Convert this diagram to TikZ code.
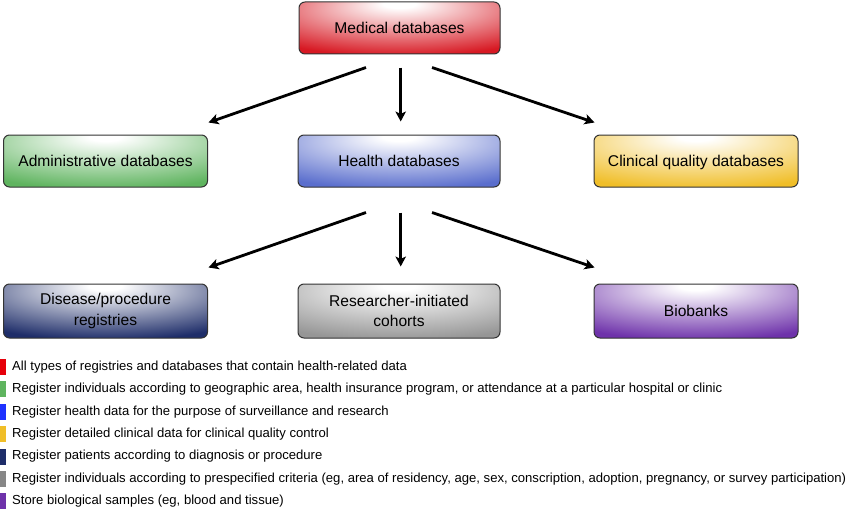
\documentclass[tikz,border=0pt]{standalone}
\usepackage{fontspec}
\setmainfont{Liberation Sans}
\usetikzlibrary{arrows.meta,positioning}
\definecolor{medred}{RGB}{215,25,35}
\definecolor{admgreen}{RGB}{95,180,95}
\definecolor{hlthblue}{RGB}{90,110,205}
\definecolor{clinyellow}{RGB}{240,190,40}
\definecolor{disnavy}{RGB}{30,45,105}
\definecolor{resgray}{RGB}{150,150,150}
\definecolor{biopurple}{RGB}{110,50,170}
\definecolor{legred}{RGB}{230,0,10}
\definecolor{legblue}{RGB}{30,50,255}
\definecolor{leggray}{RGB}{135,135,135}
\makeatletter
\pgfdeclareradialshading[tikz@radial@outer]{glow}{\pgfpoint{0bp}{24bp}}{color(0bp)=(white); color(4bp)=(white); color(42bp)=(tikz@radial@outer); color(110bp)=(tikz@radial@outer)}
\makeatother
\tikzset{
	dbbox/.style={draw=black!80, line width=1pt, rounded corners=6pt,
		minimum width=#1, minimum height=52pt, inner sep=2pt, align=center,
		font=\fontsize{15.6}{20.5}\selectfont},
	dbbox/.default=204pt,
	oneline/.style={text height=12.5pt, text depth=1.5pt},
	arr/.style={line width=2.8pt, -{Stealth[length=10pt,width=10.5pt,inset=2.5pt]}},
	legtext/.style={anchor=west, inner sep=0pt, font=\fontsize{13.1}{14}\selectfont}
}
\begin{document}
\begin{tikzpicture}[x=1pt,y=-1pt]
		\useasboundingbox (0,0) rectangle (850,511);
		% Top box
		\node[dbbox=201pt, oneline, outer color=medred, shading=glow] (med) at (399.5,28) {Medical databases};
		% Second row
		\node[dbbox, oneline, outer color=admgreen, shading=glow] (adm) at (105.5,161) {Administrative databases};
		\node[dbbox=202pt, oneline, outer color=hlthblue, shading=glow] (hlth) at (399,161) {Health databases};
		\node[dbbox, oneline, outer color=clinyellow, shading=glow] (clin) at (696,161) {Clinical quality databases};
		% Third row
		\node[dbbox, minimum height=54pt, outer color=disnavy, shading=glow] (dis) at (105.5,311) {Disease/procedure\\registries};
		\node[dbbox=202pt, minimum height=54pt, outer color=resgray, shading=glow] (res) at (399,311) {Researcher-initiated\\cohorts};
		\node[dbbox, oneline, minimum height=54pt, outer color=biopurple, shading=glow] (bio) at (696,311) {Biobanks};
		% Arrows from Medical databases
		\draw[arr] ([xshift=-33.5pt,yshift=-13pt]med.south) -- ([xshift=0.5pt,yshift=12pt]adm.north east);
		\draw[arr] ([xshift=1.2pt,yshift=-13pt]med.south) -- ([xshift=1.7pt,yshift=13pt]hlth.north);
		\draw[arr] ([xshift=32.5pt,yshift=-13pt]med.south) -- ([xshift=1pt,yshift=12pt]clin.north west);
		% Arrows from Health databases
		\draw[arr] ([xshift=-33pt,yshift=-25pt]hlth.south) -- ([xshift=0.5pt,yshift=16pt]dis.north east);
		\draw[arr] ([xshift=1.7pt,yshift=-25pt]hlth.south) -- ([xshift=1.7pt,yshift=17pt]res.north);
		\draw[arr] ([xshift=33pt,yshift=-25pt]hlth.south) -- ([xshift=1pt,yshift=16pt]bio.north west);
		% Legend
		\foreach \c/\t [count=\i] in {
			legred/{All types of registries and databases that contain health-related data},
			admgreen/{Register individuals according to geographic area, health insurance program, or attendance at a particular hospital or clinic},
			legblue/{Register health data for the purpose of surveillance and research},
			clinyellow/{Register detailed clinical data for clinical quality control},
			disnavy/{Register patients according to diagnosis or procedure},
			leggray/{Register individuals according to prespecified criteria (eg, area of residency, age, sex, conscription, adoption, pregnancy, or survey participation)},
			biopurple/{Store biological samples (eg, blood and tissue)}}{
				\fill[\c] (0,{367+22.4*(\i-1)-8}) rectangle (6,{367+22.4*(\i-1)+8});
				\node[legtext] (leg\i) at (12,{367+22.4*(\i-1)}) {\t};
			}
	\end{tikzpicture}
\end{document}
